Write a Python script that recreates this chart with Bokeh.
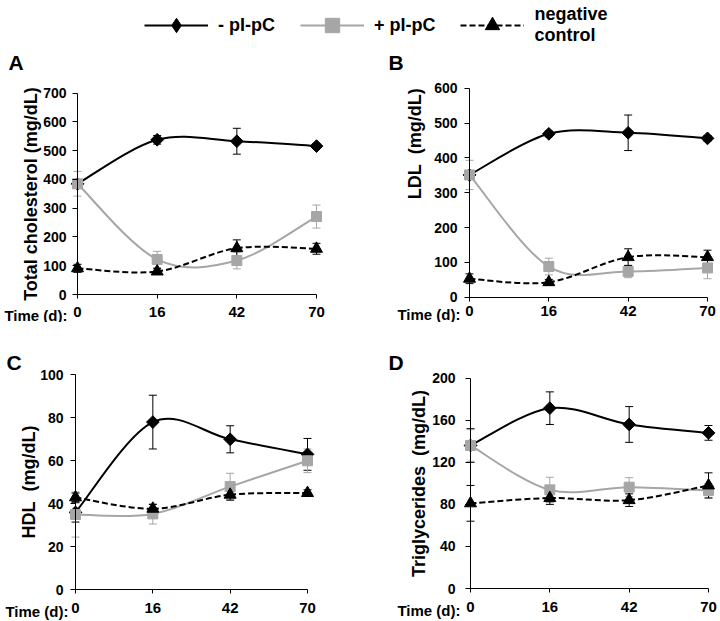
import numpy as np
from bokeh.plotting import figure
from bokeh.models import (Range1d, FixedTicker, Whisker, TeeHead, ColumnDataSource,
                          Label, Legend, LegendItem)
from bokeh.layouts import column, row
from bokeh.embed import file_html
from bokeh.resources import INLINE

# ---------------- data ----------------
days = ["0", "16", "42", "70"]
series_names = ["- pI-pC", "+ pI-pC", "negative\ncontrol"]

# A: total cholesterol (mg/dL)
tc_minus = [385, 538, 533, 516]
tc_minus_err = [10, 15, 45, 8]
tc_plus = [385, 122, 118, 271]
tc_plus_err = [43, 28, 29, 40]
tc_ctrl = [91, 80, 161, 159]
tc_ctrl_err = [14, 10, 29, 19]

# B: LDL (mg/dL)
ldl_minus = [351, 469, 472, 456]
ldl_minus_err = [8, 8, 51, 8]
ldl_plus = [351, 88, 74, 84]
ldl_plus_err = [42, 24, 18, 31]
ldl_ctrl = [53, 43, 115, 115]
ldl_ctrl_err = [14, 8, 24, 20]

# C: HDL (mg/dL)
hdl_minus = [36, 78, 70, 63]
hdl_minus_err = [4.5, 12.5, 6.3, 7.4]
hdl_plus = [35, 35.3, 48, 60]
hdl_plus_err = [10.5, 4.7, 6.2, 5.5]
hdl_ctrl = [43, 37.7, 44.2, 45]
hdl_ctrl_err = [2, 2, 2.5, 1.5]

# D: triglycerides (mg/dL)
tg_minus = [136, 171.5, 156, 148]
tg_minus_err = [16, 15.5, 17, 7]
tg_plus = [136, 93.8, 96.4, 93.2]
tg_plus_err = [15, 12, 9, 6.5]
tg_ctrl = [81, 86, 84, 98]
tg_ctrl_err = [17, 6, 6, 12]

# ---------------- style ----------------
FONT = "Liberation Sans"
GRAY = "#a6a6a6"
STYLES = [
    dict(color="black", dash="solid", marker="square", angle=np.pi / 4, size=9,
         legend_marker="diamond"),
    dict(color=GRAY, dash="solid", marker="square", angle=0.0, size=10,
         legend_marker="square"),
    dict(color="black", dash="6 3", marker="triangle", angle=0.0, size=12,
         legend_marker="triangle"),
]

xpos = list(range(len(days)))


def bezier_segments(xs, ys):
    """Excel-like smoothed line: cubic Bezier pieces through the data points."""
    n = len(xs)
    d = dict(x0=[], y0=[], x1=[], y1=[], cx0=[], cy0=[], cx1=[], cy1=[])
    for i in range(n - 1):
        a = i - 1 if i > 0 else i
        b = i + 2 if i + 2 < n else i + 1
        d["x0"].append(xs[i]); d["y0"].append(ys[i])
        d["x1"].append(xs[i + 1]); d["y1"].append(ys[i + 1])
        d["cx0"].append(xs[i] + (xs[i + 1] - xs[a]) / 6)
        d["cy0"].append(ys[i] + (ys[i + 1] - ys[a]) / 6)
        d["cx1"].append(xs[i + 1] - (xs[b] - xs[i]) / 6)
        d["cy1"].append(ys[i + 1] - (ys[b] - ys[i]) / 6)
    return d


def make_panel(canvas, axis_px, y_max, y_step, ylabel, ylabel_standoff,
               ytick_standoff, xtick_standoff, series, letter, letter_off, time_xoff,
               ylabel_pos=None):
    ox, oy, W, H = canvas            # canvas box on the page
    px0, px3, py0, pyt = axis_px     # where the axes should sit on the page
    nx = len(xpos) - 1
    sx = (px3 - px0) / nx
    sy = (py0 - pyt) / y_max
    xr = Range1d(-(px0 - ox) / sx, nx + (ox + W - px3) / sx)
    yr = Range1d(-(oy + H - py0) / sy, y_max + (pyt - oy) / sy)
    p = figure(width=W, height=H, x_range=xr, y_range=yr, toolbar_location=None,
               output_backend="svg", min_border=0)
    p.grid.visible = False
    p.outline_line_color = None
    p.background_fill_color = None
    p.border_fill_color = None

    p.xaxis.ticker = FixedTicker(ticks=xpos)
    p.xaxis.major_label_overrides = {i: d for i, d in zip(xpos, days)}
    p.xaxis.bounds = (xpos[0], xpos[-1])
    p.xaxis.fixed_location = 0
    p.yaxis.ticker = FixedTicker(ticks=list(range(0, y_max + 1, y_step)))
    p.yaxis.bounds = (0, y_max)
    p.yaxis.fixed_location = 0
    p.axis.minor_tick_line_color = None
    p.axis.major_tick_in = 0
    p.yaxis.major_tick_out = 5
    p.xaxis.major_tick_out = 4
    p.axis.axis_line_color = "black"
    p.axis.major_tick_line_color = "black"
    p.axis.major_label_text_font = FONT
    p.axis.major_label_text_font_style = "bold"
    p.axis.major_label_text_color = "black"
    p.yaxis.major_label_text_font_size = "14px"
    p.xaxis.major_label_text_font_size = "15px"
    p.yaxis.major_label_standoff = ytick_standoff
    p.xaxis.major_label_standoff = xtick_standoff

    if ylabel_pos is None:
        p.yaxis.axis_label = ylabel
        p.yaxis.axis_label_text_font = FONT
        p.yaxis.axis_label_text_font_style = "bold"
        p.yaxis.axis_label_text_font_size = "18px"
        p.yaxis.axis_label_text_color = "black"
        p.yaxis.axis_label_standoff = ylabel_standoff
    else:
        # axis title that sits high on the axis (top-aligned), as in the original
        p.add_layout(Label(x=0, y=y_max, x_offset=ylabel_pos[0], y_offset=ylabel_pos[1],
                           angle=np.pi / 2, text=ylabel, text_font=FONT,
                           text_font_style="bold", text_font_size="18px",
                           text_align="right", text_baseline="middle", text_color="black"))

    for (vals, errs), st in zip(series, STYLES):
        src = ColumnDataSource(dict(base=xpos,
                                    lower=[v - e for v, e in zip(vals, errs)],
                                    upper=[v + e for v, e in zip(vals, errs)]))
        p.add_layout(Whisker(source=src, base="base", lower="lower", upper="upper",
                             dimension="height", line_color=st["color"], line_width=1,
                             level="underlay",
                             upper_head=TeeHead(size=8, line_color=st["color"], line_width=1),
                             lower_head=TeeHead(size=8, line_color=st["color"], line_width=1)))
    for (vals, errs), st in zip(series, STYLES):
        p.bezier(source=ColumnDataSource(bezier_segments(xpos, vals)), x0="x0", y0="y0",
                 x1="x1", y1="y1", cx0="cx0", cy0="cy0", cx1="cx1", cy1="cy1",
                 line_color=st["color"], line_width=2, line_dash=st["dash"])
        p.scatter(xpos, vals, marker=st["marker"], angle=st["angle"], size=st["size"],
                  fill_color=st["color"], line_color=st["color"])

    p.add_layout(Label(x=0, y=y_max, x_offset=letter_off[0], y_offset=letter_off[1],
                       text=letter, text_font=FONT, text_font_style="bold",
                       text_font_size="21px", text_baseline="alphabetic", text_color="black"))
    p.add_layout(Label(x=0, y=0, x_offset=time_xoff, y_offset=-(4 + xtick_standoff),
                       text="Time (d):", text_font=FONT, text_font_style="bold",
                       text_font_size="15px", text_align="right", text_baseline="top",
                       text_color="black"))
    return p


pA = make_panel((0, 50, 360, 272), (77, 316, 294, 92.7), 700, 100,
                "Total cholesterol (mg/dL)", -1, 6, 8,
                [(tc_minus, tc_minus_err), (tc_plus, tc_plus_err), (tc_ctrl, tc_ctrl_err)],
                "A", (-69, 31), -10)
pB = make_panel((360, 50, 360, 272), (469, 707, 296.7, 87.7), 600, 100,
                "LDL\u00a0 (mg/dL)", 9, 7, 5,
                [(ldl_minus, ldl_minus_err), (ldl_plus, ldl_plus_err), (ldl_ctrl, ldl_ctrl_err)],
                "B", (-81, 26), -9, ylabel_pos=(-55, 0))
pC = make_panel((0, 322, 360, 299), (75, 307, 589.3, 374.3), 100, 20,
                "HDL\u00a0 (mg/dL)", -2, 7, 9,
                [(hdl_minus, hdl_minus_err), (hdl_plus, hdl_plus_err), (hdl_ctrl, hdl_ctrl_err)],
                "C", (-69, 12), -7)
pD = make_panel((360, 322, 360, 299), (470, 708, 588, 377.7), 200, 40,
                "Triglycerides\u00a0 (mg/dL)", 0, 10, 9,
                [(tg_minus, tg_minus_err), (tg_plus, tg_plus_err), (tg_ctrl, tg_ctrl_err)],
                "D", (-82, 16), -10)

# ---------------- legend strip ----------------
lf = figure(width=720, height=50, x_range=Range1d(0, 1), y_range=Range1d(0, 1),
            toolbar_location=None, output_backend="svg", min_border=0)
lf.axis.visible = False
lf.grid.visible = False
lf.outline_line_color = None
lf.border_fill_color = None
lf.background_fill_color = None
items = []
for name, st in zip(series_names, STYLES):
    # dummy renderers kept outside the visible range; only their legend glyphs show
    rl = lf.line([-3, -2], [-3, -3], line_color=st["color"], line_width=2, line_dash=st["dash"])
    rm = lf.scatter([-3], [-3], marker=st["legend_marker"], size=st["size"],
                    fill_color=st["color"], line_color=st["color"])
    items.append(LegendItem(label=name, renderers=[rl, rm]))
legend = Legend(items=items, orientation="horizontal", location=(144, 4),
                glyph_width=64, glyph_height=36, label_standoff=10, spacing=25,
                padding=0, margin=0, border_line_color=None, background_fill_alpha=0,
                label_text_font=FONT, label_text_font_style="bold",
                label_text_font_size="18px", label_text_line_height=1.15,
                label_text_color="black")
lf.add_layout(legend)

layout = column(lf, row(pA, pB), row(pC, pD))
open("out.html", "w").write(file_html(layout, INLINE, title="Lipid profile"))
